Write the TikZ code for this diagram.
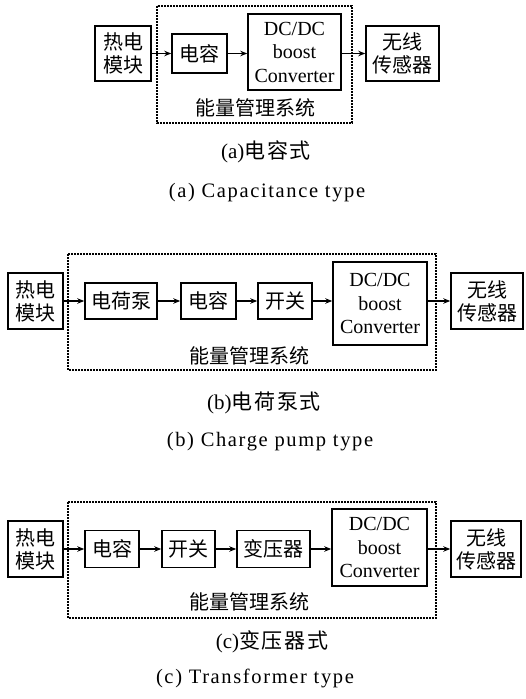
\documentclass[tikz,border=0pt]{standalone}
\usepackage{fontspec}
\setmainfont{Liberation Serif}
\newfontfamily\cjk{Noto Sans CJK SC}
\newfontfamily\capfont[LetterSpace=8]{Liberation Serif}
\newfontfamily\cjkcap[LetterSpace=8]{Noto Sans CJK SC}
\usetikzlibrary{arrows.meta}
\tikzset{
  bx/.style={draw, line width=1.5pt, inner sep=0pt, align=center,
    font=\cjk\fontsize{20}{23}\selectfont},
  dcbx/.style={draw, line width=1.5pt, inner sep=0pt, align=center,
    font=\fontsize{20}{23.5}\selectfont},
  arr/.style={line width=1.2pt, -{Stealth[length=7pt,width=5.5pt]}},
  ems/.style={line width=1.1pt, dash pattern=on 1.8pt off 1.2pt},
  emslabel/.style={inner sep=0pt, font=\cjk\fontsize{20}{23}\selectfont},
  capcn/.style={inner sep=0pt, font=\fontsize{21}{24}\selectfont},
  capen/.style={inner sep=0pt, font=\capfont\fontsize{20.5}{23}\selectfont}
}
\begin{document}
\begin{tikzpicture}[x=1pt,y=-1pt]
\useasboundingbox (0,0) rectangle (525,699);
% ---------------- (a)
\draw[ems] (157,6) rectangle (352,123);
\node[bx, minimum width=56pt, minimum height=55pt] (ta) at (123,53.5) {热电\\模块};
\node[bx, minimum width=55pt, minimum height=39pt] (ca) at (199.5,53.5) {电容};
\node[dcbx, minimum width=93pt, minimum height=76pt] (da) at (294.5,52) {DC/DC\\boost\\Converter};
\node[bx, minimum width=73pt, minimum height=55pt] (wa) at (402.5,53.5) {无线\\传感器};
\node[emslabel] (la) at (255,108) {能量管理系统};
\draw[arr] (ta.east) -- (ta.east -| ca.west);
\draw[arr] (ca.east) -- (ca.east -| da.west);
\draw[arr] (da.east |- wa.west) -- (wa.west);
\node[capcn] (capa) at (266,152) {(a){\cjkcap 电容式}};
\node[capen] (capae) at (267,193) {(a) Capacitance type};
% ---------------- (b)
\draw[ems] (68,254) rectangle (436,370);
\node[bx, minimum width=55pt, minimum height=56pt] (tb) at (35.5,301) {热电\\模块};
\node[bx, minimum width=72pt, minimum height=36pt] (eb) at (121,301) {电荷泵};
\node[bx, minimum width=55pt, minimum height=36pt] (cb) at (208.5,301) {电容};
\node[bx, minimum width=54pt, minimum height=36pt] (sb) at (285,301) {开关};
\node[dcbx, minimum width=94pt, minimum height=83pt] (db) at (380,303.5) {DC/DC\\boost\\Converter};
\node[bx, minimum width=72pt, minimum height=56pt] (wb) at (487,301) {无线\\传感器};
\node[emslabel] (lb) at (249,356) {能量管理系统};
\draw[arr] (tb.east) -- (eb.west);
\draw[arr] (eb.east) -- (cb.west);
\draw[arr] (cb.east) -- (sb.west);
\draw[arr] (sb.east) -- (sb.east -| db.west);
\draw[arr] (db.east |- wb.west) -- (wb.west);
\node[capcn] (capb) at (264,403) {(b){\cjkcap 电荷泵式}};
\node[capen] (capbe) at (270,442) {(b) Charge pump type};
% ---------------- (c)
\draw[ems] (68,502) rectangle (436,618);
\node[bx, minimum width=55pt, minimum height=56pt] (tc) at (35.5,549) {热电\\模块};
\node[bx, minimum width=54pt, minimum height=37pt] (cc) at (112,549) {电容};
\node[bx, minimum width=53pt, minimum height=37pt] (sc) at (188.5,549) {开关};
\node[bx, minimum width=73pt, minimum height=37pt] (xc) at (273.5,549) {变压器};
\node[dcbx, minimum width=95pt, minimum height=77pt] (dc) at (379.5,547.5) {DC/DC\\boost\\Converter};
\node[bx, minimum width=70pt, minimum height=56pt] (wc) at (486,549) {无线\\传感器};
\node[emslabel] (lc) at (249,602) {能量管理系统};
\draw[arr] (tc.east) -- (cc.west);
\draw[arr] (cc.east) -- (sc.west);
\draw[arr] (sc.east) -- (xc.west);
\draw[arr] (xc.east) -- (xc.east -| dc.west);
\draw[arr] (dc.east |- wc.west) -- (wc.west);
\node[capcn] (capc) at (272,642) {(c){\cjkcap 变压器式}};
\node[capen] (capce) at (255,678) {(c) Transformer type};
\end{tikzpicture}
\end{document}
